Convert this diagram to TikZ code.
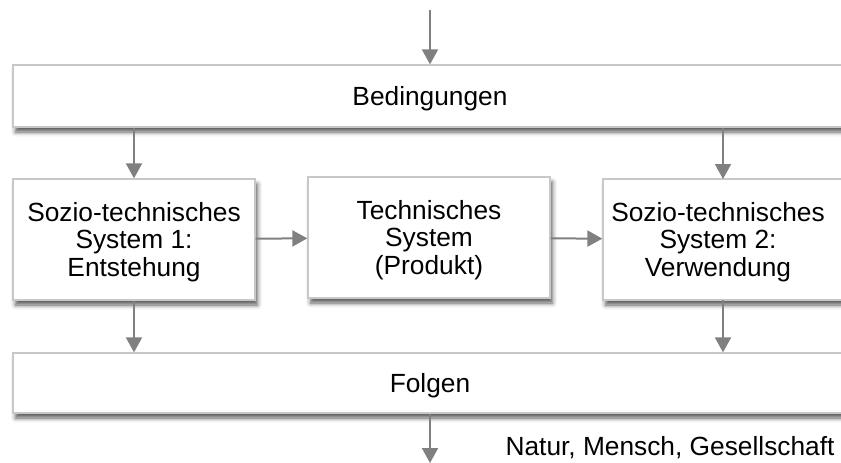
\documentclass[tikz,border=0pt]{standalone}
\usepackage{fontspec}
\setmainfont{Liberation Sans}
\usetikzlibrary{arrows.meta,shadows.blur}
\definecolor{arrowgray}{HTML}{808080}
\definecolor{boxline}{HTML}{C8C8C8}
% centred block of lines, set a little lower inside its box (size kept)
\newcommand{\boxtext}[1]{\raisebox{-3.5pt}[\height][\depth]{\begin{tabular}{@{}c@{}}#1\end{tabular}}}
\begin{document}
\begin{tikzpicture}[x=1pt,y=1pt,
  txt/.style={font=\fontsize{26.3}{27.5}\selectfont, align=center},
  panel/.style={txt, draw=boxline, line width=1.3pt, fill=white, inner sep=0pt,
    blur shadow={shadow xshift=2.5pt, shadow yshift=-5pt, shadow blur radius=4.5pt, shadow opacity=65}},
  widebox/.style={panel, minimum width=834pt, minimum height=62pt},
  sysbox/.style={panel, minimum width=242pt, minimum height=121pt},
  flow/.style={draw=arrowgray, line width=2pt, -{Triangle[length=15pt,width=16pt]}, arrowgray}
]
\useasboundingbox (0,0) rectangle (841,-463);

% horizontal bands
\node[widebox] (bed) at (430,-96) {\boxtext{Bedingungen}};
\node[widebox, minimum height=60pt] (fol) at (430,-383) {\boxtext{Folgen}};

% system boxes
\node[sysbox] (s1) at (134,-239.5) {\boxtext{Sozio-technisches\\System 1:\\Entstehung}};
\node[sysbox] (tech) at (429,-237.5) {\boxtext{Technisches\\System\\(Produkt)}};
\node[sysbox] (s2) at (724,-239.5) {\boxtext{Sozio-technisches\\System 2:\\Verwendung}\hspace{12pt}};

% free ends
\coordinate (in) at (430,-10);
\coordinate (out) at (430,-463);

% connectors
\draw[flow] (in) -- (bed.north);
\draw[flow] (bed.south -| s1.north) -- (s1.north);
\draw[flow] (bed.south -| 723,0) -- (723,-179);
\draw[flow] (s1) -- (tech);
\draw[flow] (tech) -- (s2);
\draw[flow] (s1.south) -- (fol.north -| s1.south);
\draw[flow] (723,-300) -- (fol.north -| 723,0);
\draw[flow] (fol.south) -- (out);

% outcome label
\node[txt, anchor=east] (effects) at (838,-448) {Natur, Mensch, Gesellschaft};
\end{tikzpicture}
\end{document}
